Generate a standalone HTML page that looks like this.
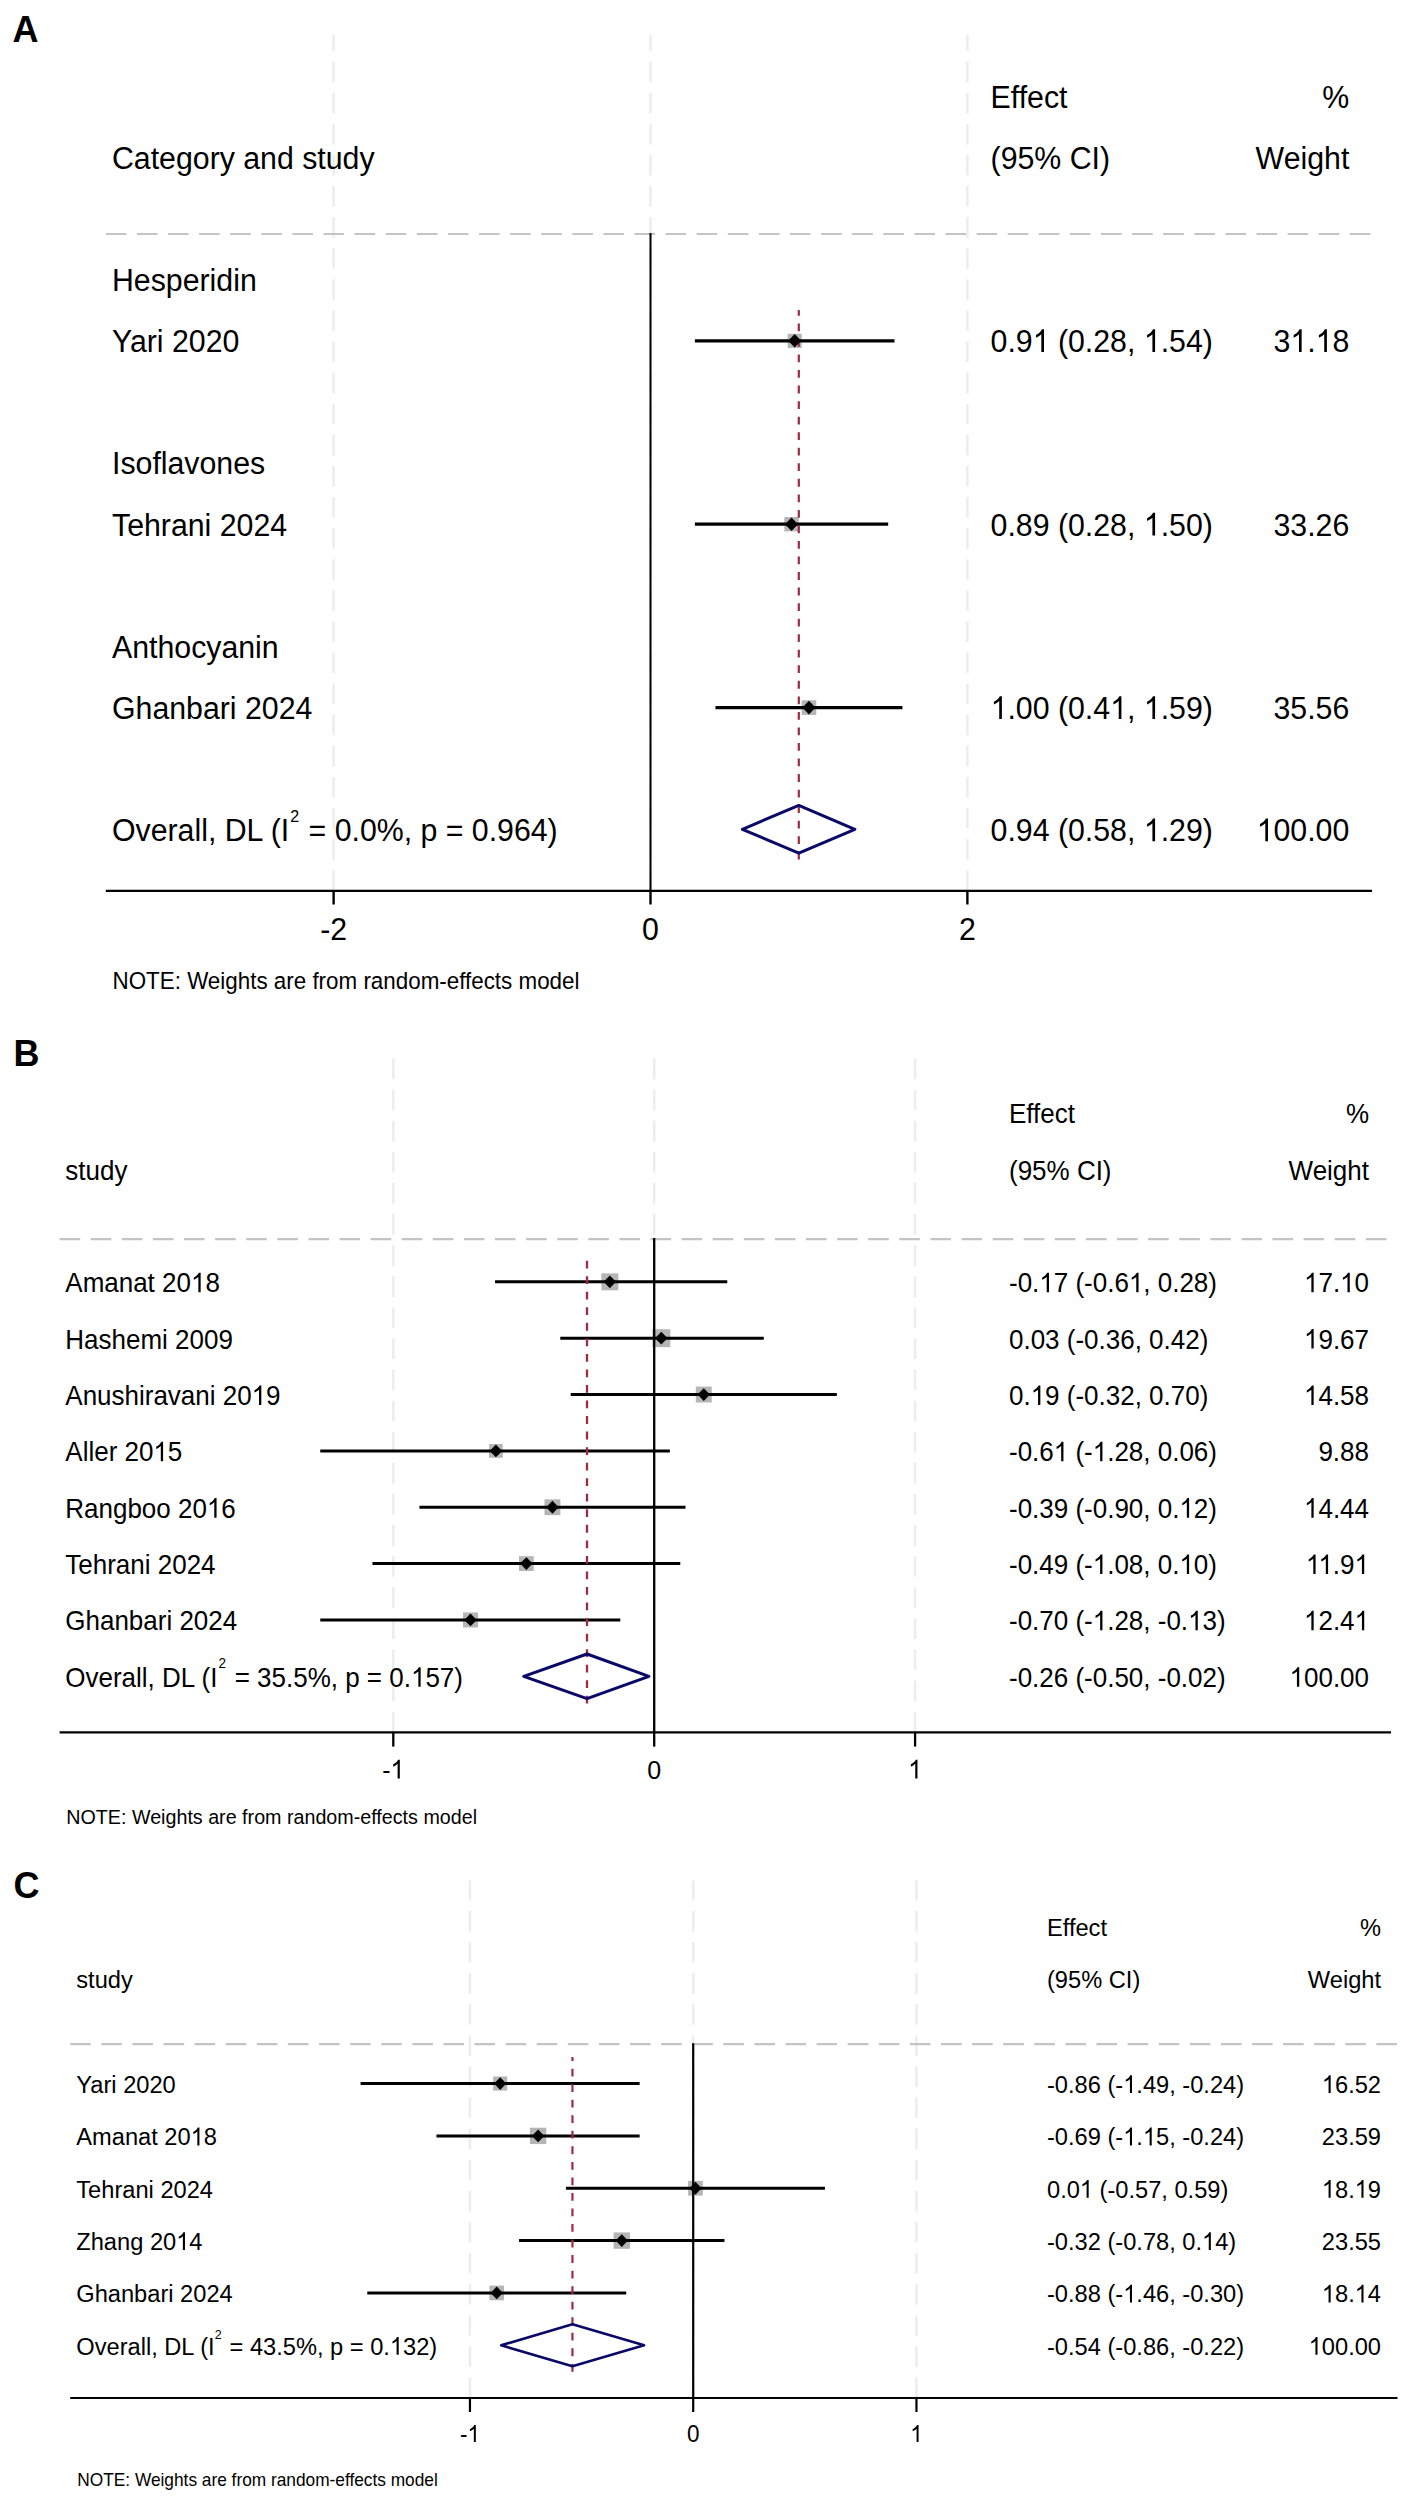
<!DOCTYPE html>
<html><head><meta charset="utf-8"><style>
html,body{margin:0;padding:0;background:#fff;width:1409px;height:2500px;overflow:hidden}
svg{display:block;font-family:"Liberation Sans", sans-serif}
</style></head><body>
<svg width="1409" height="2500" viewBox="0 0 1409 2500">
<rect width="1409" height="2500" fill="#fff"/>
<text transform="translate(12.50 42.00) scale(1 1.0)" font-size="36" font-weight="bold">A</text>
<line x1="333.62" y1="890.80" x2="333.62" y2="35.00" stroke="#ededed" stroke-width="2.5" stroke-dasharray="20.6 10.5" stroke-linecap="butt"/>
<line x1="650.50" y1="890.80" x2="650.50" y2="35.00" stroke="#ededed" stroke-width="2.5" stroke-dasharray="20.6 10.5" stroke-linecap="butt"/>
<line x1="967.38" y1="890.80" x2="967.38" y2="35.00" stroke="#ededed" stroke-width="2.5" stroke-dasharray="20.6 10.5" stroke-linecap="butt"/>
<line x1="105.80" y1="234.00" x2="1372.00" y2="234.00" stroke="#c4c4c4" stroke-width="2.2" stroke-dasharray="20.6 10.5" stroke-linecap="butt"/>
<text transform="translate(990.60 107.60) scale(1 1.05)" font-size="30.3">Effect</text>
<text transform="translate(1349.30 107.60) scale(1 1.05)" font-size="30.3" text-anchor="end">%</text>
<text transform="translate(112.00 168.73) scale(1 1.05)" font-size="30.3">Category and study</text>
<text transform="translate(990.60 168.73) scale(1 1.05)" font-size="30.3">(95% CI)</text>
<text transform="translate(1349.30 168.73) scale(1 1.05)" font-size="30.3" text-anchor="end">Weight</text>
<text transform="translate(112.00 290.99) scale(1 1.05)" font-size="30.3">Hesperidin</text>
<text transform="translate(112.00 352.12) scale(1 1.05)" font-size="30.3">Yari 2020</text>
<g transform="translate(990.60 352.12) scale(1 1.05)"><text font-size="30.3" x="0.00 16.84 25.25 58.93 67.34 77.43 94.27 102.68 119.52 136.36 144.77 170.03 178.44 195.28 212.12" y="0.00 0.00 0.00 0.00 0.00 0.00 0.00 0.00 0.00 0.00 0.00 0.00 0.00 0.00 0.00" xml:space="preserve">0.9 (0.28, .54)</text><path d="M763,0 L583,0 L583,1147 Q518,1085 413,1024 Q318,968 223,931 L223,1105 Q372,1175 476,1268 Q580,1361 622,1466 L763,1466 Z" transform="translate(42.09 0.00) scale(0.014795 -0.014795)"/><path d="M763,0 L583,0 L583,1147 Q518,1085 413,1024 Q318,968 223,931 L223,1105 Q372,1175 476,1268 Q580,1361 622,1466 L763,1466 Z" transform="translate(153.19 0.00) scale(0.014795 -0.014795)"/></g>
<g transform="translate(1349.30 352.12) scale(1 1.05)"><text font-size="30.3" x="-75.79 -42.11 -16.85" y="0.00 0.00 0.00" xml:space="preserve">3.8</text><path d="M763,0 L583,0 L583,1147 Q518,1085 413,1024 Q318,968 223,931 L223,1105 Q372,1175 476,1268 Q580,1361 622,1466 L763,1466 Z" transform="translate(-58.95 0.00) scale(0.014795 -0.014795)"/><path d="M763,0 L583,0 L583,1147 Q518,1085 413,1024 Q318,968 223,931 L223,1105 Q372,1175 476,1268 Q580,1361 622,1466 L763,1466 Z" transform="translate(-33.69 0.00) scale(0.014795 -0.014795)"/></g>
<rect x="787.63" y="333.77" width="14.11" height="14.11" fill="#b5b5b5"/>
<text transform="translate(112.00 474.38) scale(1 1.05)" font-size="30.3">Isoflavones</text>
<text transform="translate(112.00 535.51) scale(1 1.05)" font-size="30.3">Tehrani 2024</text>
<g transform="translate(990.60 535.51) scale(1 1.05)"><text font-size="30.3" x="0.00 16.84 25.25 42.09 58.93 67.34 77.43 94.27 102.68 119.52 136.36 144.77 170.03 178.44 195.28 212.12" y="0.00 0.00 0.00 0.00 0.00 0.00 0.00 0.00 0.00 0.00 0.00 0.00 0.00 0.00 0.00 0.00" xml:space="preserve">0.89 (0.28, .50)</text><path d="M763,0 L583,0 L583,1147 Q518,1085 413,1024 Q318,968 223,931 L223,1105 Q372,1175 476,1268 Q580,1361 622,1466 L763,1466 Z" transform="translate(153.19 0.00) scale(0.014795 -0.014795)"/></g>
<text transform="translate(1349.30 535.51) scale(1 1.05)" font-size="30.3" text-anchor="end">33.26</text>
<rect x="784.34" y="517.03" width="14.35" height="14.35" fill="#b5b5b5"/>
<text transform="translate(112.00 657.77) scale(1 1.05)" font-size="30.3">Anthocyanin</text>
<text transform="translate(112.00 718.90) scale(1 1.05)" font-size="30.3">Ghanbari 2024</text>
<g transform="translate(990.60 718.90) scale(1 1.05)"><text font-size="30.3" x="16.84 25.25 42.09 58.93 67.34 77.43 94.27 102.68 136.36 144.77 170.03 178.44 195.28 212.12" y="0.00 0.00 0.00 0.00 0.00 0.00 0.00 0.00 0.00 0.00 0.00 0.00 0.00 0.00" xml:space="preserve">.00 (0.4, .59)</text><path d="M763,0 L583,0 L583,1147 Q518,1085 413,1024 Q318,968 223,931 L223,1105 Q372,1175 476,1268 Q580,1361 622,1466 L763,1466 Z" transform="translate(0.00 0.00) scale(0.014795 -0.014795)"/><path d="M763,0 L583,0 L583,1147 Q518,1085 413,1024 Q318,968 223,931 L223,1105 Q372,1175 476,1268 Q580,1361 622,1466 L763,1466 Z" transform="translate(119.52 0.00) scale(0.014795 -0.014795)"/><path d="M763,0 L583,0 L583,1147 Q518,1085 413,1024 Q318,968 223,931 L223,1105 Q372,1175 476,1268 Q580,1361 622,1466 L763,1466 Z" transform="translate(153.19 0.00) scale(0.014795 -0.014795)"/></g>
<text transform="translate(1349.30 718.90) scale(1 1.05)" font-size="30.3" text-anchor="end">35.56</text>
<rect x="801.63" y="700.29" width="14.61" height="14.61" fill="#b5b5b5"/>
<line x1="650.50" y1="233.00" x2="650.50" y2="890.80" stroke="#000" stroke-width="2" stroke-linecap="butt"/>
<line x1="694.86" y1="340.82" x2="894.50" y2="340.82" stroke="#000" stroke-width="3.2" stroke-linecap="butt"/>
<line x1="694.86" y1="524.21" x2="888.16" y2="524.21" stroke="#000" stroke-width="3.2" stroke-linecap="butt"/>
<line x1="715.46" y1="707.60" x2="902.42" y2="707.60" stroke="#000" stroke-width="3.2" stroke-linecap="butt"/>
<line x1="798.80" y1="859.60" x2="798.80" y2="310.00" stroke="#9c2c42" stroke-width="2.2" stroke-dasharray="7.8 7.74" stroke-linecap="butt"/>
<polygon points="788.18,340.82 794.68,334.02 801.18,340.82 794.68,347.62" fill="#000" stroke="none" stroke-width="0" stroke-linejoin="miter" stroke-miterlimit="10"/>
<polygon points="785.01,524.21 791.51,517.41 798.01,524.21 791.51,531.01" fill="#000" stroke="none" stroke-width="0" stroke-linejoin="miter" stroke-miterlimit="10"/>
<polygon points="802.44,707.60 808.94,700.80 815.44,707.60 808.94,714.40" fill="#000" stroke="none" stroke-width="0" stroke-linejoin="miter" stroke-miterlimit="10"/>
<text transform="translate(112.00 841.16) scale(1 1.05)" font-size="30.3">Overall, DL (I<tspan dy="-18.5" dx="1.0" font-size="16">2</tspan><tspan dy="18.5" dx="1.0"> = 0.0%, p = 0.964)</tspan></text>
<g transform="translate(990.60 841.16) scale(1 1.05)"><text font-size="30.3" x="0.00 16.84 25.25 42.09 58.93 67.34 77.43 94.27 102.68 119.52 136.36 144.77 170.03 178.44 195.28 212.12" y="0.00 0.00 0.00 0.00 0.00 0.00 0.00 0.00 0.00 0.00 0.00 0.00 0.00 0.00 0.00 0.00" xml:space="preserve">0.94 (0.58, .29)</text><path d="M763,0 L583,0 L583,1147 Q518,1085 413,1024 Q318,968 223,931 L223,1105 Q372,1175 476,1268 Q580,1361 622,1466 L763,1466 Z" transform="translate(153.19 0.00) scale(0.014795 -0.014795)"/></g>
<g transform="translate(1349.30 841.16) scale(1 1.05)"><text font-size="30.3" x="-75.79 -58.95 -42.11 -33.69 -16.85" y="0.00 0.00 0.00 0.00 0.00" xml:space="preserve">00.00</text><path d="M763,0 L583,0 L583,1147 Q518,1085 413,1024 Q318,968 223,931 L223,1105 Q372,1175 476,1268 Q580,1361 622,1466 L763,1466 Z" transform="translate(-92.62 0.00) scale(0.014795 -0.014795)"/></g>
<polygon points="742.40,829.26 798.80,805.41 854.89,829.26 798.80,853.11" fill="none" stroke="#0a0868" stroke-width="3" stroke-linejoin="round"/>
<line x1="105.80" y1="890.80" x2="1372.00" y2="890.80" stroke="#000" stroke-width="2.3" stroke-linecap="butt"/>
<line x1="333.62" y1="890.80" x2="333.62" y2="904.50" stroke="#000" stroke-width="2.4" stroke-linecap="butt"/>
<text transform="translate(333.62 940.00) scale(1 1.05)" font-size="30.3" text-anchor="middle">-2</text>
<line x1="650.50" y1="890.80" x2="650.50" y2="904.50" stroke="#000" stroke-width="2.4" stroke-linecap="butt"/>
<text transform="translate(650.50 940.00) scale(1 1.05)" font-size="30.3" text-anchor="middle">0</text>
<line x1="967.38" y1="890.80" x2="967.38" y2="904.50" stroke="#000" stroke-width="2.4" stroke-linecap="butt"/>
<text transform="translate(967.38 940.00) scale(1 1.05)" font-size="30.3" text-anchor="middle">2</text>
<text transform="translate(112.50 988.70) scale(1 1.05)" font-size="22.4">NOTE: Weights are from random-effects model</text>
<text transform="translate(13.50 1065.50) scale(1 1.0)" font-size="36" font-weight="bold">B</text>
<line x1="393.30" y1="1732.30" x2="393.30" y2="1058.00" stroke="#ededed" stroke-width="2.5" stroke-dasharray="20.6 10.5" stroke-linecap="butt"/>
<line x1="654.20" y1="1732.30" x2="654.20" y2="1058.00" stroke="#ededed" stroke-width="2.5" stroke-dasharray="20.6 10.5" stroke-linecap="butt"/>
<line x1="915.10" y1="1732.30" x2="915.10" y2="1058.00" stroke="#ededed" stroke-width="2.5" stroke-dasharray="20.6 10.5" stroke-linecap="butt"/>
<line x1="59.60" y1="1239.10" x2="1391.00" y2="1239.10" stroke="#c4c4c4" stroke-width="2.2" stroke-dasharray="20.6 10.5" stroke-linecap="butt"/>
<text transform="translate(1009.00 1123.20) scale(1 1.05)" font-size="26">Effect</text>
<text transform="translate(1369.00 1123.20) scale(1 1.05)" font-size="26" text-anchor="end">%</text>
<text transform="translate(65.30 1179.55) scale(1 1.05)" font-size="26">study</text>
<text transform="translate(1009.00 1179.55) scale(1 1.05)" font-size="26">(95% CI)</text>
<text transform="translate(1369.00 1179.55) scale(1 1.05)" font-size="26" text-anchor="end">Weight</text>
<g transform="translate(65.30 1292.25) scale(1 1.05)"><text font-size="26" x="0.00 17.33 38.97 53.41 67.86 82.32 89.53 96.75 111.20 140.11" y="0.00 0.00 0.00 0.00 0.00 0.00 0.00 0.00 0.00 0.00" xml:space="preserve">Amanat 208</text><path d="M763,0 L583,0 L583,1147 Q518,1085 413,1024 Q318,968 223,931 L223,1105 Q372,1175 476,1268 Q580,1361 622,1466 L763,1466 Z" transform="translate(125.66 0.00) scale(0.012695 -0.012695)"/></g>
<g transform="translate(1009.00 1292.25) scale(1 1.05)"><text font-size="26" x="0.00 8.64 23.10 44.76 59.22 66.43 75.08 83.74 98.19 105.41 134.30 141.53 148.75 163.20 170.42 184.87 199.32" y="0.00 0.00 0.00 0.00 0.00 0.00 0.00 0.00 0.00 0.00 0.00 0.00 0.00 0.00 0.00 0.00 0.00" xml:space="preserve">-0.7 (-0.6, 0.28)</text><path d="M763,0 L583,0 L583,1147 Q518,1085 413,1024 Q318,968 223,931 L223,1105 Q372,1175 476,1268 Q580,1361 622,1466 L763,1466 Z" transform="translate(30.31 0.00) scale(0.012695 -0.012695)"/><path d="M763,0 L583,0 L583,1147 Q518,1085 413,1024 Q318,968 223,931 L223,1105 Q372,1175 476,1268 Q580,1361 622,1466 L763,1466 Z" transform="translate(119.86 0.00) scale(0.012695 -0.012695)"/></g>
<g transform="translate(1369.00 1292.25) scale(1 1.05)"><text font-size="26" x="-50.58 -36.13 -14.46" y="0.00 0.00 0.00" xml:space="preserve">7.0</text><path d="M763,0 L583,0 L583,1147 Q518,1085 413,1024 Q318,968 223,931 L223,1105 Q372,1175 476,1268 Q580,1361 622,1466 L763,1466 Z" transform="translate(-65.03 0.00) scale(0.012695 -0.012695)"/><path d="M763,0 L583,0 L583,1147 Q518,1085 413,1024 Q318,968 223,931 L223,1105 Q372,1175 476,1268 Q580,1361 622,1466 L763,1466 Z" transform="translate(-28.91 0.00) scale(0.012695 -0.012695)"/></g>
<rect x="601.38" y="1273.38" width="16.94" height="16.94" fill="#b5b5b5"/>
<text transform="translate(65.30 1348.60) scale(1 1.05)" font-size="26">Hashemi 2009</text>
<text transform="translate(1009.00 1348.60) scale(1 1.05)" font-size="26">0.03 (-0.36, 0.42)</text>
<g transform="translate(1369.00 1348.60) scale(1 1.05)"><text font-size="26" x="-50.58 -36.13 -28.91 -14.46" y="0.00 0.00 0.00 0.00" xml:space="preserve">9.67</text><path d="M763,0 L583,0 L583,1147 Q518,1085 413,1024 Q318,968 223,931 L223,1105 Q372,1175 476,1268 Q580,1361 622,1466 L763,1466 Z" transform="translate(-65.03 0.00) scale(0.012695 -0.012695)"/></g>
<rect x="652.35" y="1329.25" width="17.91" height="17.91" fill="#b5b5b5"/>
<g transform="translate(65.30 1404.95) scale(1 1.05)"><text font-size="26" x="0.00 17.33 31.77 46.22 59.22 73.67 79.44 88.10 102.55 115.53 129.98 144.44 150.21 157.42 171.87 200.78" y="0.00 0.00 0.00 0.00 0.00 0.00 0.00 0.00 0.00 0.00 0.00 0.00 0.00 0.00 0.00 0.00" xml:space="preserve">Anushiravani 209</text><path d="M763,0 L583,0 L583,1147 Q518,1085 413,1024 Q318,968 223,931 L223,1105 Q372,1175 476,1268 Q580,1361 622,1466 L763,1466 Z" transform="translate(186.33 0.00) scale(0.012695 -0.012695)"/></g>
<g transform="translate(1009.00 1404.95) scale(1 1.05)"><text font-size="26" x="0.00 14.45 36.12 50.56 57.79 66.43 75.08 89.53 96.75 111.20 125.66 132.87 140.10 154.54 161.77 176.21 190.66" y="0.00 0.00 0.00 0.00 0.00 0.00 0.00 0.00 0.00 0.00 0.00 0.00 0.00 0.00 0.00 0.00 0.00" xml:space="preserve">0.9 (-0.32, 0.70)</text><path d="M763,0 L583,0 L583,1147 Q518,1085 413,1024 Q318,968 223,931 L223,1105 Q372,1175 476,1268 Q580,1361 622,1466 L763,1466 Z" transform="translate(21.66 0.00) scale(0.012695 -0.012695)"/></g>
<g transform="translate(1369.00 1404.95) scale(1 1.05)"><text font-size="26" x="-50.58 -36.13 -28.91 -14.46" y="0.00 0.00 0.00 0.00" xml:space="preserve">4.58</text><path d="M763,0 L583,0 L583,1147 Q518,1085 413,1024 Q318,968 223,931 L223,1105 Q372,1175 476,1268 Q580,1361 622,1466 L763,1466 Z" transform="translate(-65.03 0.00) scale(0.012695 -0.012695)"/></g>
<rect x="695.81" y="1386.59" width="15.91" height="15.91" fill="#b5b5b5"/>
<g transform="translate(65.30 1461.30) scale(1 1.05)"><text font-size="26" x="0.00 17.33 23.10 28.86 43.33 51.97 59.19 73.64 102.55" y="0.00 0.00 0.00 0.00 0.00 0.00 0.00 0.00 0.00" xml:space="preserve">Aller 205</text><path d="M763,0 L583,0 L583,1147 Q518,1085 413,1024 Q318,968 223,931 L223,1105 Q372,1175 476,1268 Q580,1361 622,1466 L763,1466 Z" transform="translate(88.10 0.00) scale(0.012695 -0.012695)"/></g>
<g transform="translate(1009.00 1461.30) scale(1 1.05)"><text font-size="26" x="0.00 8.64 23.10 30.31 59.22 66.43 75.08 98.19 105.41 119.86 134.30 141.53 148.75 163.20 170.42 184.87 199.32" y="0.00 0.00 0.00 0.00 0.00 0.00 0.00 0.00 0.00 0.00 0.00 0.00 0.00 0.00 0.00 0.00 0.00" xml:space="preserve">-0.6 (-.28, 0.06)</text><path d="M763,0 L583,0 L583,1147 Q518,1085 413,1024 Q318,968 223,931 L223,1105 Q372,1175 476,1268 Q580,1361 622,1466 L763,1466 Z" transform="translate(44.76 0.00) scale(0.012695 -0.012695)"/><path d="M763,0 L583,0 L583,1147 Q518,1085 413,1024 Q318,968 223,931 L223,1105 Q372,1175 476,1268 Q580,1361 622,1466 L763,1466 Z" transform="translate(83.74 0.00) scale(0.012695 -0.012695)"/></g>
<text transform="translate(1369.00 1461.30) scale(1 1.05)" font-size="26" text-anchor="end">9.88</text>
<rect x="489.03" y="1444.03" width="13.73" height="13.73" fill="#b5b5b5"/>
<g transform="translate(65.30 1517.65) scale(1 1.05)"><text font-size="26" x="0.00 18.76 33.21 47.65 62.12 76.56 91.01 105.46 112.68 127.13 156.04" y="0.00 0.00 0.00 0.00 0.00 0.00 0.00 0.00 0.00 0.00 0.00" xml:space="preserve">Rangboo 206</text><path d="M763,0 L583,0 L583,1147 Q518,1085 413,1024 Q318,968 223,931 L223,1105 Q372,1175 476,1268 Q580,1361 622,1466 L763,1466 Z" transform="translate(141.57 0.00) scale(0.012695 -0.012695)"/></g>
<g transform="translate(1009.00 1517.65) scale(1 1.05)"><text font-size="26" x="0.00 8.64 23.10 30.31 44.76 59.22 66.43 75.08 83.74 98.19 105.41 119.86 134.30 141.53 148.75 163.20 184.87 199.32" y="0.00 0.00 0.00 0.00 0.00 0.00 0.00 0.00 0.00 0.00 0.00 0.00 0.00 0.00 0.00 0.00 0.00 0.00" xml:space="preserve">-0.39 (-0.90, 0.2)</text><path d="M763,0 L583,0 L583,1147 Q518,1085 413,1024 Q318,968 223,931 L223,1105 Q372,1175 476,1268 Q580,1361 622,1466 L763,1466 Z" transform="translate(170.42 0.00) scale(0.012695 -0.012695)"/></g>
<g transform="translate(1369.00 1517.65) scale(1 1.05)"><text font-size="26" x="-50.58 -36.13 -28.91 -14.46" y="0.00 0.00 0.00 0.00" xml:space="preserve">4.44</text><path d="M763,0 L583,0 L583,1147 Q518,1085 413,1024 Q318,968 223,931 L223,1105 Q372,1175 476,1268 Q580,1361 622,1466 L763,1466 Z" transform="translate(-65.03 0.00) scale(0.012695 -0.012695)"/></g>
<rect x="544.52" y="1499.32" width="15.85" height="15.85" fill="#b5b5b5"/>
<text transform="translate(65.30 1574.00) scale(1 1.05)" font-size="26">Tehrani 2024</text>
<g transform="translate(1009.00 1574.00) scale(1 1.05)"><text font-size="26" x="0.00 8.64 23.10 30.31 44.76 59.22 66.43 75.08 98.19 105.41 119.86 134.30 141.53 148.75 163.20 184.87 199.32" y="0.00 0.00 0.00 0.00 0.00 0.00 0.00 0.00 0.00 0.00 0.00 0.00 0.00 0.00 0.00 0.00 0.00" xml:space="preserve">-0.49 (-.08, 0.0)</text><path d="M763,0 L583,0 L583,1147 Q518,1085 413,1024 Q318,968 223,931 L223,1105 Q372,1175 476,1268 Q580,1361 622,1466 L763,1466 Z" transform="translate(83.74 0.00) scale(0.012695 -0.012695)"/><path d="M763,0 L583,0 L583,1147 Q518,1085 413,1024 Q318,968 223,931 L223,1105 Q372,1175 476,1268 Q580,1361 622,1466 L763,1466 Z" transform="translate(170.42 0.00) scale(0.012695 -0.012695)"/></g>
<g transform="translate(1369.00 1574.00) scale(1 1.05)"><text font-size="26" x="-36.15 -28.92" y="0.00 0.00" xml:space="preserve">.9</text><path d="M763,0 L583,0 L583,1147 Q518,1085 413,1024 Q318,968 223,931 L223,1105 Q372,1175 476,1268 Q580,1361 622,1466 L763,1466 Z" transform="translate(-63.11 0.00) scale(0.012695 -0.012695)"/><path d="M763,0 L583,0 L583,1147 Q518,1085 413,1024 Q318,968 223,931 L223,1105 Q372,1175 476,1268 Q580,1361 622,1466 L763,1466 Z" transform="translate(-50.59 0.00) scale(0.012695 -0.012695)"/><path d="M763,0 L583,0 L583,1147 Q518,1085 413,1024 Q318,968 223,931 L223,1105 Q372,1175 476,1268 Q580,1361 622,1466 L763,1466 Z" transform="translate(-14.48 0.00) scale(0.012695 -0.012695)"/></g>
<rect x="519.00" y="1556.24" width="14.73" height="14.73" fill="#b5b5b5"/>
<text transform="translate(65.30 1630.35) scale(1 1.05)" font-size="26">Ghanbari 2024</text>
<g transform="translate(1009.00 1630.35) scale(1 1.05)"><text font-size="26" x="0.00 8.64 23.10 30.31 44.76 59.22 66.43 75.08 98.19 105.41 119.86 134.30 141.53 148.75 157.41 171.85 193.52 207.97" y="0.00 0.00 0.00 0.00 0.00 0.00 0.00 0.00 0.00 0.00 0.00 0.00 0.00 0.00 0.00 0.00 0.00 0.00" xml:space="preserve">-0.70 (-.28, -0.3)</text><path d="M763,0 L583,0 L583,1147 Q518,1085 413,1024 Q318,968 223,931 L223,1105 Q372,1175 476,1268 Q580,1361 622,1466 L763,1466 Z" transform="translate(83.74 0.00) scale(0.012695 -0.012695)"/><path d="M763,0 L583,0 L583,1147 Q518,1085 413,1024 Q318,968 223,931 L223,1105 Q372,1175 476,1268 Q580,1361 622,1466 L763,1466 Z" transform="translate(179.08 0.00) scale(0.012695 -0.012695)"/></g>
<g transform="translate(1369.00 1630.35) scale(1 1.05)"><text font-size="26" x="-50.58 -36.13 -28.91" y="0.00 0.00 0.00" xml:space="preserve">2.4</text><path d="M763,0 L583,0 L583,1147 Q518,1085 413,1024 Q318,968 223,931 L223,1105 Q372,1175 476,1268 Q580,1361 622,1466 L763,1466 Z" transform="translate(-65.03 0.00) scale(0.012695 -0.012695)"/><path d="M763,0 L583,0 L583,1147 Q518,1085 413,1024 Q318,968 223,931 L223,1105 Q372,1175 476,1268 Q580,1361 622,1466 L763,1466 Z" transform="translate(-14.46 0.00) scale(0.012695 -0.012695)"/></g>
<rect x="463.02" y="1612.47" width="14.96" height="14.96" fill="#b5b5b5"/>
<line x1="654.20" y1="1238.10" x2="654.20" y2="1732.30" stroke="#000" stroke-width="2.3" stroke-linecap="butt"/>
<line x1="495.05" y1="1281.85" x2="727.25" y2="1281.85" stroke="#000" stroke-width="3" stroke-linecap="butt"/>
<line x1="560.28" y1="1338.20" x2="763.78" y2="1338.20" stroke="#000" stroke-width="3" stroke-linecap="butt"/>
<line x1="570.71" y1="1394.55" x2="836.83" y2="1394.55" stroke="#000" stroke-width="3" stroke-linecap="butt"/>
<line x1="320.25" y1="1450.90" x2="669.85" y2="1450.90" stroke="#000" stroke-width="3" stroke-linecap="butt"/>
<line x1="419.39" y1="1507.25" x2="685.51" y2="1507.25" stroke="#000" stroke-width="3" stroke-linecap="butt"/>
<line x1="372.43" y1="1563.60" x2="680.29" y2="1563.60" stroke="#000" stroke-width="3" stroke-linecap="butt"/>
<line x1="320.25" y1="1619.95" x2="620.28" y2="1619.95" stroke="#000" stroke-width="3" stroke-linecap="butt"/>
<line x1="587.00" y1="1703.60" x2="587.00" y2="1260.40" stroke="#9c2c42" stroke-width="2.3" stroke-dasharray="7.8 7.74" stroke-linecap="butt"/>
<polygon points="603.65,1281.85 609.85,1275.45 616.05,1281.85 609.85,1288.25" fill="#000" stroke="none" stroke-width="0" stroke-linejoin="miter" stroke-miterlimit="10"/>
<polygon points="655.10,1338.20 661.30,1331.80 667.50,1338.20 661.30,1344.60" fill="#000" stroke="none" stroke-width="0" stroke-linejoin="miter" stroke-miterlimit="10"/>
<polygon points="697.57,1394.55 703.77,1388.15 709.97,1394.55 703.77,1400.95" fill="#000" stroke="none" stroke-width="0" stroke-linejoin="miter" stroke-miterlimit="10"/>
<polygon points="489.70,1450.90 495.90,1444.50 502.10,1450.90 495.90,1457.30" fill="#000" stroke="none" stroke-width="0" stroke-linejoin="miter" stroke-miterlimit="10"/>
<polygon points="546.25,1507.25 552.45,1500.85 558.65,1507.25 552.45,1513.65" fill="#000" stroke="none" stroke-width="0" stroke-linejoin="miter" stroke-miterlimit="10"/>
<polygon points="520.16,1563.60 526.36,1557.20 532.56,1563.60 526.36,1570.00" fill="#000" stroke="none" stroke-width="0" stroke-linejoin="miter" stroke-miterlimit="10"/>
<polygon points="464.30,1619.95 470.50,1613.55 476.70,1619.95 470.50,1626.35" fill="#000" stroke="none" stroke-width="0" stroke-linejoin="miter" stroke-miterlimit="10"/>
<g transform="translate(65.30 1686.70) scale(1 1.05)"><text font-size="26" x="0.00 20.21 33.19 47.64 56.29 70.74 76.52 82.29 89.52 96.72 115.50 128.99 136.19 144.85 162.20 169.41 184.59 191.81 206.26 220.71 227.93 242.38 265.48 272.70 279.91 294.37 301.58 316.76 323.98 338.43 360.10 374.55 388.99" y="0.00 0.00 0.00 0.00 0.00 0.00 0.00 0.00 0.00 0.00 0.00 0.00 0.00 0.00 0.00 0.00 0.00 0.00 0.00 0.00 0.00 0.00 0.00 0.00 0.00 0.00 0.00 0.00 0.00 0.00 0.00 0.00 0.00" xml:space="preserve">Overall, DL (I = 35.5%, p = 0.57)</text><text font-size="13.5" x="153.09" y="-17.50" xml:space="preserve">2</text><path d="M763,0 L583,0 L583,1147 Q518,1085 413,1024 Q318,968 223,931 L223,1105 Q372,1175 476,1268 Q580,1361 622,1466 L763,1466 Z" transform="translate(345.65 0.00) scale(0.012695 -0.012695)"/></g>
<text transform="translate(1009.00 1686.70) scale(1 1.05)" font-size="26">-0.26 (-0.50, -0.02)</text>
<g transform="translate(1369.00 1686.70) scale(1 1.05)"><text font-size="26" x="-65.03 -50.58 -36.13 -28.91 -14.46" y="0.00 0.00 0.00 0.00 0.00" xml:space="preserve">00.00</text><path d="M763,0 L583,0 L583,1147 Q518,1085 413,1024 Q318,968 223,931 L223,1105 Q372,1175 476,1268 Q580,1361 622,1466 L763,1466 Z" transform="translate(-79.47 0.00) scale(0.012695 -0.012695)"/></g>
<polygon points="523.75,1676.30 587.00,1654.00 648.98,1676.30 587.00,1698.60" fill="none" stroke="#0a0868" stroke-width="3" stroke-linejoin="round"/>
<line x1="59.60" y1="1732.30" x2="1391.00" y2="1732.30" stroke="#000" stroke-width="2.3" stroke-linecap="butt"/>
<line x1="393.30" y1="1732.30" x2="393.30" y2="1746.60" stroke="#000" stroke-width="2.3" stroke-linecap="butt"/>
<g transform="translate(393.30 1778.50) scale(1 1.05)"><text font-size="25" x="-11.12" y="0.00" xml:space="preserve">-</text><path d="M763,0 L583,0 L583,1147 Q518,1085 413,1024 Q318,968 223,931 L223,1105 Q372,1175 476,1268 Q580,1361 622,1466 L763,1466 Z" transform="translate(-2.80 0.00) scale(0.012207 -0.012207)"/></g>
<line x1="654.20" y1="1732.30" x2="654.20" y2="1746.60" stroke="#000" stroke-width="2.3" stroke-linecap="butt"/>
<text transform="translate(654.20 1778.50) scale(1 1.05)" font-size="25" text-anchor="middle">0</text>
<line x1="915.10" y1="1732.30" x2="915.10" y2="1746.60" stroke="#000" stroke-width="2.3" stroke-linecap="butt"/>
<g transform="translate(915.10 1778.50) scale(1 1.05)"><path d="M763,0 L583,0 L583,1147 Q518,1085 413,1024 Q318,968 223,931 L223,1105 Q372,1175 476,1268 Q580,1361 622,1466 L763,1466 Z" transform="translate(-6.96 0.00) scale(0.012207 -0.012207)"/></g>
<text transform="translate(66.30 1824.00) scale(1 1.05)" font-size="19.7">NOTE: Weights are from random-effects model</text>
<text transform="translate(13.50 1898.00) scale(1 1.0)" font-size="36" font-weight="bold">C</text>
<line x1="469.95" y1="2398.00" x2="469.95" y2="1880.60" stroke="#ededed" stroke-width="2.5" stroke-dasharray="20.6 10.5" stroke-linecap="butt"/>
<line x1="693.20" y1="2398.00" x2="693.20" y2="1880.60" stroke="#ededed" stroke-width="2.5" stroke-dasharray="20.6 10.5" stroke-linecap="butt"/>
<line x1="916.45" y1="2398.00" x2="916.45" y2="1880.60" stroke="#ededed" stroke-width="2.5" stroke-dasharray="20.6 10.5" stroke-linecap="butt"/>
<line x1="70.20" y1="2044.20" x2="1397.50" y2="2044.20" stroke="#c4c4c4" stroke-width="2.2" stroke-dasharray="20.6 10.5" stroke-linecap="butt"/>
<text transform="translate(1047.00 1936.00) scale(1 1.05)" font-size="23.65">Effect</text>
<text transform="translate(1381.00 1936.00) scale(1 1.05)" font-size="23.65" text-anchor="end">%</text>
<text transform="translate(76.30 1988.35) scale(1 1.05)" font-size="23.65">study</text>
<text transform="translate(1047.00 1988.35) scale(1 1.05)" font-size="23.65">(95% CI)</text>
<text transform="translate(1381.00 1988.35) scale(1 1.05)" font-size="23.65" text-anchor="end">Weight</text>
<text transform="translate(76.30 2093.05) scale(1 1.05)" font-size="23.65">Yari 2020</text>
<g transform="translate(1047.00 2093.05) scale(1 1.05)"><text font-size="23.65" x="0.00 7.86 21.02 27.58 40.72 53.87 60.44 68.30 89.32 95.89 109.04 122.17 128.74 135.31 143.19 156.33 162.89 176.05 189.18" y="0.00 0.00 0.00 0.00 0.00 0.00 0.00 0.00 0.00 0.00 0.00 0.00 0.00 0.00 0.00 0.00 0.00 0.00 0.00" xml:space="preserve">-0.86 (-.49, -0.24)</text><path d="M763,0 L583,0 L583,1147 Q518,1085 413,1024 Q318,968 223,931 L223,1105 Q372,1175 476,1268 Q580,1361 622,1466 L763,1466 Z" transform="translate(76.18 0.00) scale(0.011548 -0.011548)"/></g>
<g transform="translate(1381.00 2093.05) scale(1 1.05)"><text font-size="23.65" x="-46.02 -32.87 -26.30 -13.17" y="0.00 0.00 0.00 0.00" xml:space="preserve">6.52</text><path d="M763,0 L583,0 L583,1147 Q518,1085 413,1024 Q318,968 223,931 L223,1105 Q372,1175 476,1268 Q580,1361 622,1466 L763,1466 Z" transform="translate(-59.16 0.00) scale(0.011548 -0.011548)"/></g>
<rect x="493.15" y="2076.50" width="14.09" height="14.09" fill="#b5b5b5"/>
<g transform="translate(76.30 2145.40) scale(1 1.05)"><text font-size="23.65" x="0.00 15.76 35.45 48.60 61.73 74.89 81.45 88.02 101.16 127.45" y="0.00 0.00 0.00 0.00 0.00 0.00 0.00 0.00 0.00 0.00" xml:space="preserve">Amanat 208</text><path d="M763,0 L583,0 L583,1147 Q518,1085 413,1024 Q318,968 223,931 L223,1105 Q372,1175 476,1268 Q580,1361 622,1466 L763,1466 Z" transform="translate(114.31 0.00) scale(0.011548 -0.011548)"/></g>
<g transform="translate(1047.00 2145.40) scale(1 1.05)"><text font-size="23.65" x="0.00 7.86 21.02 27.58 40.72 53.87 60.44 68.30 89.32 109.04 122.17 128.74 135.31 143.19 156.33 162.89 176.05 189.18" y="0.00 0.00 0.00 0.00 0.00 0.00 0.00 0.00 0.00 0.00 0.00 0.00 0.00 0.00 0.00 0.00 0.00 0.00" xml:space="preserve">-0.69 (-.5, -0.24)</text><path d="M763,0 L583,0 L583,1147 Q518,1085 413,1024 Q318,968 223,931 L223,1105 Q372,1175 476,1268 Q580,1361 622,1466 L763,1466 Z" transform="translate(76.18 0.00) scale(0.011548 -0.011548)"/><path d="M763,0 L583,0 L583,1147 Q518,1085 413,1024 Q318,968 223,931 L223,1105 Q372,1175 476,1268 Q580,1361 622,1466 L763,1466 Z" transform="translate(95.89 0.00) scale(0.011548 -0.011548)"/></g>
<text transform="translate(1381.00 2145.40) scale(1 1.05)" font-size="23.65" text-anchor="end">23.59</text>
<rect x="529.92" y="2127.72" width="16.35" height="16.35" fill="#b5b5b5"/>
<text transform="translate(76.30 2197.75) scale(1 1.05)" font-size="23.65">Tehrani 2024</text>
<g transform="translate(1047.00 2197.75) scale(1 1.05)"><text font-size="23.65" x="0.00 13.14 19.70 45.99 52.56 60.44 68.30 81.45 88.02 101.16 114.31 120.88 127.45 140.58 147.15 160.30 173.44" y="0.00 0.00 0.00 0.00 0.00 0.00 0.00 0.00 0.00 0.00 0.00 0.00 0.00 0.00 0.00 0.00 0.00" xml:space="preserve">0.0 (-0.57, 0.59)</text><path d="M763,0 L583,0 L583,1147 Q518,1085 413,1024 Q318,968 223,931 L223,1105 Q372,1175 476,1268 Q580,1361 622,1466 L763,1466 Z" transform="translate(32.86 0.00) scale(0.011548 -0.011548)"/></g>
<g transform="translate(1381.00 2197.75) scale(1 1.05)"><text font-size="23.65" x="-46.02 -32.87 -13.17" y="0.00 0.00 0.00" xml:space="preserve">8.9</text><path d="M763,0 L583,0 L583,1147 Q518,1085 413,1024 Q318,968 223,931 L223,1105 Q372,1175 476,1268 Q580,1361 622,1466 L763,1466 Z" transform="translate(-59.16 0.00) scale(0.011548 -0.011548)"/><path d="M763,0 L583,0 L583,1147 Q518,1085 413,1024 Q318,968 223,931 L223,1105 Q372,1175 476,1268 Q580,1361 622,1466 L763,1466 Z" transform="translate(-26.30 0.00) scale(0.011548 -0.011548)"/></g>
<rect x="688.10" y="2180.92" width="14.67" height="14.67" fill="#b5b5b5"/>
<g transform="translate(76.30 2250.10) scale(1 1.05)"><text font-size="23.65" x="0.00 14.43 27.58 40.72 53.87 67.01 73.58 86.73 113.02" y="0.00 0.00 0.00 0.00 0.00 0.00 0.00 0.00 0.00" xml:space="preserve">Zhang 204</text><path d="M763,0 L583,0 L583,1147 Q518,1085 413,1024 Q318,968 223,931 L223,1105 Q372,1175 476,1268 Q580,1361 622,1466 L763,1466 Z" transform="translate(99.86 0.00) scale(0.011548 -0.011548)"/></g>
<g transform="translate(1047.00 2250.10) scale(1 1.05)"><text font-size="23.65" x="0.00 7.86 21.02 27.58 40.72 53.87 60.44 68.30 76.18 89.32 95.89 109.04 122.17 128.74 135.31 148.46 168.17 181.32" y="0.00 0.00 0.00 0.00 0.00 0.00 0.00 0.00 0.00 0.00 0.00 0.00 0.00 0.00 0.00 0.00 0.00 0.00" xml:space="preserve">-0.32 (-0.78, 0.4)</text><path d="M763,0 L583,0 L583,1147 Q518,1085 413,1024 Q318,968 223,931 L223,1105 Q372,1175 476,1268 Q580,1361 622,1466 L763,1466 Z" transform="translate(155.03 0.00) scale(0.011548 -0.011548)"/></g>
<text transform="translate(1381.00 2250.10) scale(1 1.05)" font-size="23.65" text-anchor="end">23.55</text>
<rect x="613.59" y="2232.43" width="16.34" height="16.34" fill="#b5b5b5"/>
<text transform="translate(76.30 2302.45) scale(1 1.05)" font-size="23.65">Ghanbari 2024</text>
<g transform="translate(1047.00 2302.45) scale(1 1.05)"><text font-size="23.65" x="0.00 7.86 21.02 27.58 40.72 53.87 60.44 68.30 89.32 95.89 109.04 122.17 128.74 135.31 143.19 156.33 162.89 176.05 189.18" y="0.00 0.00 0.00 0.00 0.00 0.00 0.00 0.00 0.00 0.00 0.00 0.00 0.00 0.00 0.00 0.00 0.00 0.00 0.00" xml:space="preserve">-0.88 (-.46, -0.30)</text><path d="M763,0 L583,0 L583,1147 Q518,1085 413,1024 Q318,968 223,931 L223,1105 Q372,1175 476,1268 Q580,1361 622,1466 L763,1466 Z" transform="translate(76.18 0.00) scale(0.011548 -0.011548)"/></g>
<g transform="translate(1381.00 2302.45) scale(1 1.05)"><text font-size="23.65" x="-46.02 -32.87 -13.17" y="0.00 0.00 0.00" xml:space="preserve">8.4</text><path d="M763,0 L583,0 L583,1147 Q518,1085 413,1024 Q318,968 223,931 L223,1105 Q372,1175 476,1268 Q580,1361 622,1466 L763,1466 Z" transform="translate(-59.16 0.00) scale(0.011548 -0.011548)"/><path d="M763,0 L583,0 L583,1147 Q518,1085 413,1024 Q318,968 223,931 L223,1105 Q372,1175 476,1268 Q580,1361 622,1466 L763,1466 Z" transform="translate(-26.30 0.00) scale(0.011548 -0.011548)"/></g>
<rect x="489.42" y="2285.63" width="14.65" height="14.65" fill="#b5b5b5"/>
<line x1="693.20" y1="2043.20" x2="693.20" y2="2398.00" stroke="#000" stroke-width="2.2" stroke-linecap="butt"/>
<line x1="360.56" y1="2083.55" x2="639.62" y2="2083.55" stroke="#000" stroke-width="3" stroke-linecap="butt"/>
<line x1="436.46" y1="2135.90" x2="639.62" y2="2135.90" stroke="#000" stroke-width="3" stroke-linecap="butt"/>
<line x1="565.95" y1="2188.25" x2="824.92" y2="2188.25" stroke="#000" stroke-width="3" stroke-linecap="butt"/>
<line x1="519.07" y1="2240.60" x2="724.46" y2="2240.60" stroke="#000" stroke-width="3" stroke-linecap="butt"/>
<line x1="367.26" y1="2292.95" x2="626.23" y2="2292.95" stroke="#000" stroke-width="3" stroke-linecap="butt"/>
<line x1="572.45" y1="2371.70" x2="572.45" y2="2057.00" stroke="#9c2c42" stroke-width="2.2" stroke-dasharray="7.8 7.74" stroke-linecap="butt"/>
<polygon points="494.10,2083.55 500.20,2077.15 506.30,2083.55 500.20,2089.95" fill="#000" stroke="none" stroke-width="0" stroke-linejoin="miter" stroke-miterlimit="10"/>
<polygon points="532.00,2135.90 538.10,2129.50 544.20,2135.90 538.10,2142.30" fill="#000" stroke="none" stroke-width="0" stroke-linejoin="miter" stroke-miterlimit="10"/>
<polygon points="689.33,2188.25 695.43,2181.85 701.53,2188.25 695.43,2194.65" fill="#000" stroke="none" stroke-width="0" stroke-linejoin="miter" stroke-miterlimit="10"/>
<polygon points="615.66,2240.60 621.76,2234.20 627.86,2240.60 621.76,2247.00" fill="#000" stroke="none" stroke-width="0" stroke-linejoin="miter" stroke-miterlimit="10"/>
<polygon points="490.64,2292.95 496.74,2286.55 502.84,2292.95 496.74,2299.35" fill="#000" stroke="none" stroke-width="0" stroke-linejoin="miter" stroke-miterlimit="10"/>
<g transform="translate(76.30 2354.80) scale(1 1.05)"><text font-size="23.65" x="0.00 18.38 30.19 43.34 51.22 64.36 69.61 74.86 81.42 87.99 105.06 117.33 123.90 131.77 146.71 153.26 167.07 173.64 186.79 199.92 206.49 219.64 240.66 247.23 253.79 266.93 273.50 287.31 293.87 307.01 326.73 339.88 353.02" y="0.00 0.00 0.00 0.00 0.00 0.00 0.00 0.00 0.00 0.00 0.00 0.00 0.00 0.00 0.00 0.00 0.00 0.00 0.00 0.00 0.00 0.00 0.00 0.00 0.00 0.00 0.00 0.00 0.00 0.00 0.00 0.00 0.00" xml:space="preserve">Overall, DL (I = 43.5%, p = 0.32)</text><text font-size="12.5" x="138.36" y="-15.00" xml:space="preserve">2</text><path d="M763,0 L583,0 L583,1147 Q518,1085 413,1024 Q318,968 223,931 L223,1105 Q372,1175 476,1268 Q580,1361 622,1466 L763,1466 Z" transform="translate(313.58 0.00) scale(0.011548 -0.011548)"/></g>
<text transform="translate(1047.00 2354.80) scale(1 1.05)" font-size="23.65">-0.54 (-0.86, -0.22)</text>
<g transform="translate(1381.00 2354.80) scale(1 1.05)"><text font-size="23.65" x="-59.16 -46.01 -32.87 -26.30 -13.15" y="0.00 0.00 0.00 0.00 0.00" xml:space="preserve">00.00</text><path d="M763,0 L583,0 L583,1147 Q518,1085 413,1024 Q318,968 223,931 L223,1105 Q372,1175 476,1268 Q580,1361 622,1466 L763,1466 Z" transform="translate(-72.30 0.00) scale(0.011548 -0.011548)"/></g>
<polygon points="501.21,2345.30 572.45,2324.30 644.09,2345.30 572.45,2366.30" fill="none" stroke="#0a0868" stroke-width="2.6" stroke-linejoin="round"/>
<line x1="70.20" y1="2398.00" x2="1397.50" y2="2398.00" stroke="#000" stroke-width="2.2" stroke-linecap="butt"/>
<line x1="469.95" y1="2398.00" x2="469.95" y2="2412.00" stroke="#000" stroke-width="2.2" stroke-linecap="butt"/>
<g transform="translate(469.95 2442.00) scale(1 1.05)"><text font-size="22.5" x="-10.00" y="0.00" xml:space="preserve">-</text><path d="M763,0 L583,0 L583,1147 Q518,1085 413,1024 Q318,968 223,931 L223,1105 Q372,1175 476,1268 Q580,1361 622,1466 L763,1466 Z" transform="translate(-2.51 0.00) scale(0.010986 -0.010986)"/></g>
<line x1="693.20" y1="2398.00" x2="693.20" y2="2412.00" stroke="#000" stroke-width="2.2" stroke-linecap="butt"/>
<text transform="translate(693.20 2442.00) scale(1 1.05)" font-size="22.5" text-anchor="middle">0</text>
<line x1="916.45" y1="2398.00" x2="916.45" y2="2412.00" stroke="#000" stroke-width="2.2" stroke-linecap="butt"/>
<g transform="translate(916.45 2442.00) scale(1 1.05)"><path d="M763,0 L583,0 L583,1147 Q518,1085 413,1024 Q318,968 223,931 L223,1105 Q372,1175 476,1268 Q580,1361 622,1466 L763,1466 Z" transform="translate(-6.26 0.00) scale(0.010986 -0.010986)"/></g>
<text transform="translate(77.30 2485.70) scale(1 1.05)" font-size="17.3">NOTE: Weights are from random-effects model</text>
</svg></body></html>
